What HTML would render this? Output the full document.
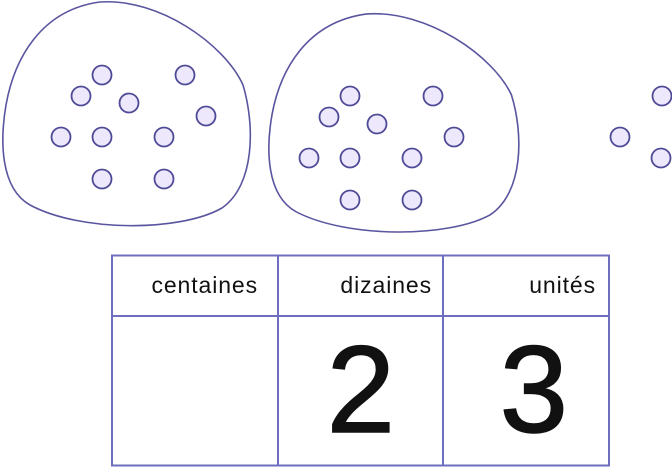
<!DOCTYPE html>
<html><head><style>html,body{margin:0;padding:0;background:#fff}</style></head><body>
<svg width="672" height="468" xmlns="http://www.w3.org/2000/svg" style="display:block">
<defs>
<path id="blob" d="M100 2 C160 -2 225 45 243 85 C255 125 255 185 222 208 C180 232 80 232 30 205 C0 188 0 140 6 105 C14 60 40 10 100 2 Z"/>
</defs>
<g fill="none" stroke="#5a559f" stroke-width="1.6">
<use href="#blob"/>
<use href="#blob" transform="translate(266,12) scale(1.01,0.975)"/>
</g>
<g fill="#ede8fb" stroke="#4f4a97" stroke-width="1.8">
<circle cx="102" cy="75" r="9.5"/><circle cx="81" cy="96" r="9.5"/><circle cx="129" cy="103" r="9.5"/><circle cx="185" cy="75" r="9.5"/><circle cx="206" cy="116" r="9.5"/><circle cx="61" cy="137" r="9.5"/><circle cx="102" cy="137" r="9.5"/><circle cx="164" cy="137" r="9.5"/><circle cx="102" cy="179" r="9.5"/><circle cx="164" cy="179" r="9.5"/>
<circle cx="350" cy="96" r="9.5"/><circle cx="329" cy="117" r="9.5"/><circle cx="377" cy="124" r="9.5"/><circle cx="433" cy="96" r="9.5"/><circle cx="454" cy="137" r="9.5"/><circle cx="309" cy="158" r="9.5"/><circle cx="350" cy="158" r="9.5"/><circle cx="412" cy="158" r="9.5"/><circle cx="350" cy="200" r="9.5"/><circle cx="412" cy="200" r="9.5"/>
<circle cx="662" cy="96" r="9.5"/><circle cx="620" cy="137" r="9.5"/><circle cx="661" cy="158" r="9.5"/>
</g>
<g fill="none" stroke="#6f6dbd" stroke-width="2">
<rect x="112" y="255.5" width="497" height="210"/>
<line x1="278" y1="255" x2="278" y2="466"/>
<line x1="443" y1="255" x2="443" y2="466"/>
<line x1="112" y1="316" x2="610" y2="316"/>
</g>
<g font-family="Liberation Sans, sans-serif" fill="#111" text-anchor="end">
<text x="258" y="293" font-size="23" letter-spacing="0.9">centaines</text>
<text x="432" y="293" font-size="23" letter-spacing="0.9">dizaines</text>
<text x="596" y="293" font-size="23" letter-spacing="0.9">unités</text>
<text x="395" y="432" font-size="123" stroke="#111" stroke-width="1.5">2</text>
<text x="568" y="432" font-size="123" stroke="#111" stroke-width="1.5">3</text>
</g>
</svg>
</body></html>
